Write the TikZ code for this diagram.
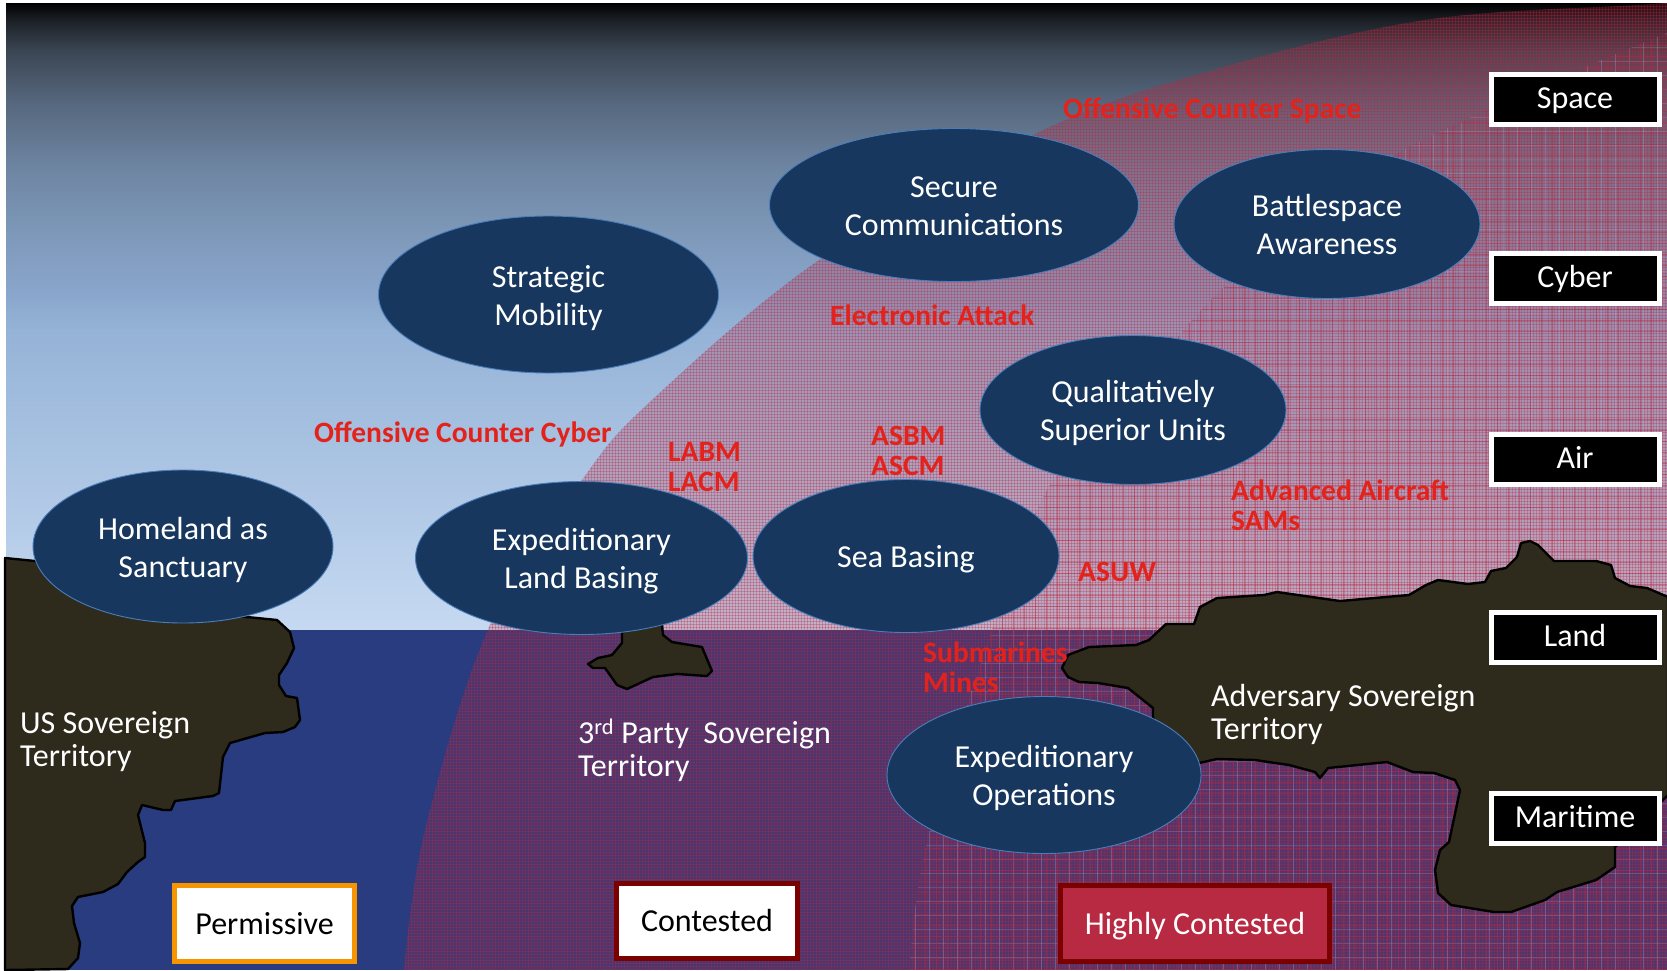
\documentclass[tikz,border=0pt]{standalone}
\usepackage{fontspec}
\setmainfont{Carlito}
\usetikzlibrary{shapes.geometric}
\definecolor{skyA}{HTML}{000000}
\definecolor{skyB}{HTML}{1C2026}
\definecolor{skyC}{HTML}{3A4552}
\definecolor{skyD}{HTML}{55667C}
\definecolor{skyF}{HTML}{6F86A3}
\definecolor{skyG}{HTML}{7F9ABB}
\definecolor{skyH}{HTML}{8AA6CC}
\definecolor{skyI}{HTML}{95B3D7}
\definecolor{skyE}{HTML}{C6D9F1}
\definecolor{seaC}{HTML}{283C7F}
\definecolor{landC}{HTML}{2E2B1C}
\definecolor{hotC}{HTML}{B82942}
\definecolor{paleC}{HTML}{9DB4E0}
\definecolor{deepred}{HTML}{7B0000}
\definecolor{orangeC}{HTML}{F79500}
\definecolor{ovalC}{HTML}{17375E}
\definecolor{ovalL}{HTML}{4A7EBB}
\definecolor{threat}{HTML}{E3231B}
\pgfdeclareverticalshading{skyshade}{100bp}{color(0bp)=(skyE); color(25bp)=(skyE); color(48.9bp)=(skyI); color(51.7bp)=(skyH); color(56.1bp)=(skyG); color(61.68bp)=(skyF); color(67.26bp)=(skyD); color(71.25bp)=(skyC); color(73.64bp)=(skyB); color(75bp)=(skyA); color(100bp)=(skyA)}
\newcommand{\ovaltext}[1]{\vbox{\kern8pt\hbox{\begin{tabular}{@{}c@{}}#1\end{tabular}}}}
\tikzset{
  oval/.style={ellipse,draw=ovalL,fill=ovalC,line width=0.9pt,text=white,inner sep=0pt,font=\fontsize{32}{38}\selectfont},
  landshape/.style={fill=landC,draw=black,line width=2.4pt,line join=round},
  domainbox/.style={draw=white,fill=black,line width=5pt,text=white,inner sep=0pt,minimum width=168pt,minimum height=50pt,text height=24.4pt,text depth=5pt,font=\fontsize{32}{36}\selectfont},
  legendbox/.style={line width=5.5pt,inner sep=0pt,text height=26.5pt,text depth=5pt,font=\fontsize{32}{36}\selectfont},
  threatlabel/.style={text=threat,anchor=west,inner sep=0pt,align=left,font=\fontsize{29.5}{30}\selectfont\bfseries},
  terrlabel/.style={text=white,anchor=west,inner sep=0pt,align=left,font=\fontsize{32}{33}\selectfont},
}
\begin{document}
\begin{tikzpicture}[x=1pt,y=-1pt]
\useasboundingbox (0,0) rectangle (1667,970);
\fill[white] (0,0) rectangle (1667,970);
% sky and sea
\path[shading=skyshade] (6,3) rectangle (1667,630);
\fill[seaC] (6,630) rectangle (1667,970);
% outer threat zone
\begin{scope}
\clip plot[smooth,tension=0.6] coordinates {(404,970)(425,830)(489,627)(582,480)(652,400)(819,260)(1037,133)(1213,70)(1425,20)(1638,5)(1667,3)} -- (1667,970) -- cycle;
\fill[hotC,opacity=0.22] (0,0) rectangle (1667,970);
\draw[hotC,line width=1pt,opacity=0.30] \foreach \i in {0,...,556} {({3*\i},0) -- ({3*\i},970)};
\draw[hotC,line width=1pt,opacity=0.30] \foreach \i in {0,...,324} {(0,{3*\i}) -- (1667,{3*\i})};
\end{scope}
% inner threat zone
\begin{scope}
\clip plot[smooth,tension=0.6] coordinates {(909,970)(925,850)(975,680)(1037,510)(1074,457)(1130,400)(1221,290)(1391,157)(1667,33)} -- (1667,970) -- cycle;
\fill[hotC,opacity=0.06] (0,0) rectangle (1667,970);
\draw[paleC,line width=1pt,opacity=0.30] \foreach \i in {0,...,120} {({14*\i+5},0) -- ({14*\i+5},970)};
\draw[paleC,line width=1pt,opacity=0.22] \foreach \i in {0,...,70} {(0,{14*\i+5}) -- (1667,{14*\i+5})};
\draw[hotC,line width=1pt,opacity=0.45] \foreach \i in {0,...,150} {({11*\i+1},0) -- ({11*\i+1},970)};
\draw[hotC,line width=1pt,opacity=0.45] \foreach \i in {0,...,90} {(0,{11*\i+1}) -- (1667,{11*\i+1})};
\end{scope}
% land masses
\draw[landshape] (5,558) -- (35,561) -- (120,600) -- (247,617) -- (277,620) -- (290,632) -- (294,648) -- (287,663) -- (279,675) -- (279,685) -- (286,696) -- (297,698) -- (300,720) -- (295,727) -- (283,732) -- (265,733) -- (230,743) -- (223,757) -- (219,793) -- (213,796) -- (175,801) -- (171,810) -- (163,810) -- (142,805) -- (138,815) -- (145,843) -- (145,857) -- (138,862) -- (127,872) -- (118,884) -- (103,892) -- (78,897) -- (72,906) -- (74,923) -- (80,943) -- (78,958) -- (68,969) -- (5,970) -- cycle;
\draw[landshape] (622,625) -- (622,643) -- (612,655) -- (598,658) -- (588,664) -- (593,668) -- (605,668) -- (617,685) -- (627,689) -- (653,677) -- (677,674) -- (707,676) -- (712,671) -- (702,647) -- (672,642) -- (663,635) -- (662,625) -- cycle;
\draw[landshape] (1062,668) -- (1068,655) -- (1089,647) -- (1136,645) -- (1149,640) -- (1166,624) -- (1194,624) -- (1200,607) -- (1217,598) -- (1264,595) -- (1277,592) -- (1298,595) -- (1340,601) -- (1409,595) -- (1426,585) -- (1438,580) -- (1468,584) -- (1485,582) -- (1491,571) -- (1506,568) -- (1517,557) -- (1521,543) -- (1530,541) -- (1538,545) -- (1554,561) -- (1596,561) -- (1611,565) -- (1615,578) -- (1630,586) -- (1647,588) -- (1668,597) -- (1668,795) -- (1615,847) -- (1615,867) -- (1596,880) -- (1557,892) -- (1545,900) -- (1511,912) -- (1494,912) -- (1451,905) -- (1438,893) -- (1435,870) -- (1440,850) -- (1449,842) -- (1460,790) -- (1455,780) -- (1434,773) -- (1413,772) -- (1387,762) -- (1328,768) -- (1320,778) -- (1315,772) -- (1289,765) -- (1255,760) -- (1217,759) -- (1190,765) -- (1153,718) -- (1153,708) -- (1128,688) -- (1098,683) -- (1079,682) -- (1068,677) -- cycle;
% capability ovals
\node[oval,minimum width=369pt,minimum height=153pt] (secure) at (954,205) {\ovaltext{Secure\\Communications}};
\node[oval,minimum width=306pt,minimum height=149pt] (battle) at (1327,224) {\ovaltext{Battlespace\\Awareness}};
\node[oval,minimum width=340pt,minimum height=157pt] (strategic) at (548.5,294.5) {\ovaltext{Strategic\\Mobility}};
\node[oval,minimum width=306pt,minimum height=149pt] (quality) at (1133,410) {\ovaltext{Qualitatively\\Superior Units}};
\node[oval,minimum width=300pt,minimum height=153pt] (homeland) at (183,546.5) {\ovaltext{Homeland as\\Sanctuary}};
\node[oval,minimum width=332pt,minimum height=153pt] (expland) at (581.5,558) {\ovaltext{Expeditionary\\Land Basing}};
\node[oval,minimum width=306pt,minimum height=153pt] (sea) at (906,556) {\ovaltext{Sea Basing}};
\node[oval,minimum width=314pt,minimum height=157pt] (expops) at (1044,775) {\ovaltext{Expeditionary\\Operations}};
% domain boxes
\node[domainbox] (space) at (1575,99) {Space};
\node[domainbox] (cyber) at (1575,278) {Cyber};
\node[domainbox] (air) at (1575,459) {Air};
\node[domainbox] (land) at (1575,637) {Land};
\node[domainbox] (maritime) at (1575,818) {Maritime};
% legend
\node[legendbox,draw=orangeC,fill=white,minimum width=180pt,minimum height=76pt] (perm) at (264.5,923.5) {Permissive};
\node[legendbox,draw=deepred,fill=white,minimum width=181pt,minimum height=75pt] (cont) at (707,921) {Contested};
\node[legendbox,draw=deepred,fill=hotC,text=white,minimum width=269pt,minimum height=76pt] (high) at (1195,923.5) {Highly Contested};
% territories
\node[terrlabel] (usterr) at (20,742) {US Sovereign\\Territory};
\node[terrlabel] (thirdterr) at (578,750) {3\textsuperscript{rd} Party\ \ Sovereign\\Territory};
\node[terrlabel] (advterr) at (1211,714) {Adversary Sovereign\\Territory};
% threats
\node[threatlabel] (ocs) at (1063,110) {Offensive Counter Space};
\node[threatlabel] (ea) at (830,315) {Electronic Attack};
\node[threatlabel] (occ) at (314,434) {Offensive Counter Cyber};
\node[threatlabel] (labm) at (668,467) {LABM\\LACM};
\node[threatlabel] (asbm) at (871,450.5) {ASBM\\ASCM};
\node[threatlabel] (aircraft) at (1231,505) {Advanced Aircraft\\SAMs};
\node[threatlabel] (asuw) at (1078,572) {ASUW};
\node[threatlabel] (subs) at (923,667.5) {Submarines\\Mines};
\end{tikzpicture}
\end{document}
